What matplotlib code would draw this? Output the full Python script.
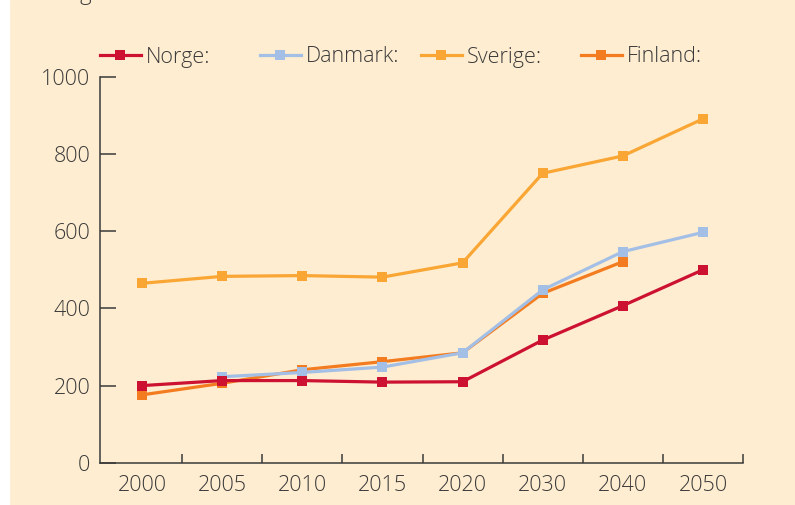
import numpy as np
import matplotlib.pyplot as plt
from matplotlib.lines import Line2D

# data
years = ["2000", "2005", "2010", "2015", "2020", "2030", "2040", "2050"]
norge = [200, 213, 213, 209, 210, 318, 407, 500]
danmark = [None, 223, 234, 248, 285, 448, 547, 597]
sverige = [465, 483, 485, 481, 518, 750, 795, 891]
finland = [176, 206, 241, 262, 285, 439, 521, None]

BG = "#FEEDD0"
TXT = "#3a3a3a"
plt.rcParams['font.family'] = ['Open Sans', 'DejaVu Sans']
plt.rcParams['font.weight'] = 'light'

fig = plt.figure(figsize=(7.95, 5.05), dpi=100, facecolor=BG)
W, H = 795, 505
ax = fig.add_axes([100 / W, 1 - 462.8 / H, 643 / W, 386 / H])
ax.set_facecolor(BG)

# white strip at left edge
fig.patches.append(plt.Rectangle((0, 0), 9 / W, 1, transform=fig.transFigure,
                                 color="white", zorder=0))
# title cut at top of the picture
fig.text(80 / W, 1.0, "g", fontsize=16, color=TXT, va="baseline")

x = np.arange(len(years))

def arr(v):
    return np.array([np.nan if a is None else a for a in v], dtype=float)

series = [
    ("Sverige:", sverige, "#F9A634"),
    ("Finland:", finland, "#F47C20"),
    ("Danmark:", danmark, "#A4BFE6"),
    ("Norge:", norge, "#CC1230"),
]
for name, vals, col in series:
    ax.plot(x, arr(vals), color=col, lw=2.3, marker="s", ms=7.5,
            markeredgewidth=0, label=name, clip_on=False)

ax.set_xlim(-0.525, 7.5)
ax.set_ylim(0, 1000)
ax.set_yticks([0, 200, 400, 600, 800, 1000])
ax.set_xticks(x)
ax.set_xticklabels(years)
ax.set_xticks(np.arange(0.5, 8, 1), minor=True)
ax.tick_params(axis="x", which="major", length=0, pad=9, labelsize=15.5, colors=TXT)
ax.tick_params(axis="x", which="minor", direction="in", length=6.5, width=1.1, color=TXT)
ax.tick_params(axis="y", direction="in", length=11.5, width=1.1, pad=7,
               labelsize=15.5, colors=TXT)
for s in ["top", "right"]:
    ax.spines[s].set_visible(False)
for s in ["left", "bottom"]:
    ax.spines[s].set_color(TXT)
    ax.spines[s].set_linewidth(1.1)

# legend: one entry each at fixed positions
order = [("Norge:", "#CC1230", 100), ("Danmark:", "#A4BFE6", 260),
         ("Sverige:", "#F9A634", 421), ("Finland:", "#F47C20", 581)]
for name, col, px in order:
    h = Line2D([], [], color=col, lw=2.3, marker="s", ms=7.5, markeredgewidth=0)
    leg = fig.legend([h], [name], loc="center left",
                     bbox_to_anchor=(px / W, 1 - 57 / H), frameon=False,
                     borderpad=0, borderaxespad=0, handlelength=1.9,
                     handletextpad=0.25, fontsize=15.5, labelcolor=TXT)

fig.savefig("out.png", dpi=100, facecolor=BG)
